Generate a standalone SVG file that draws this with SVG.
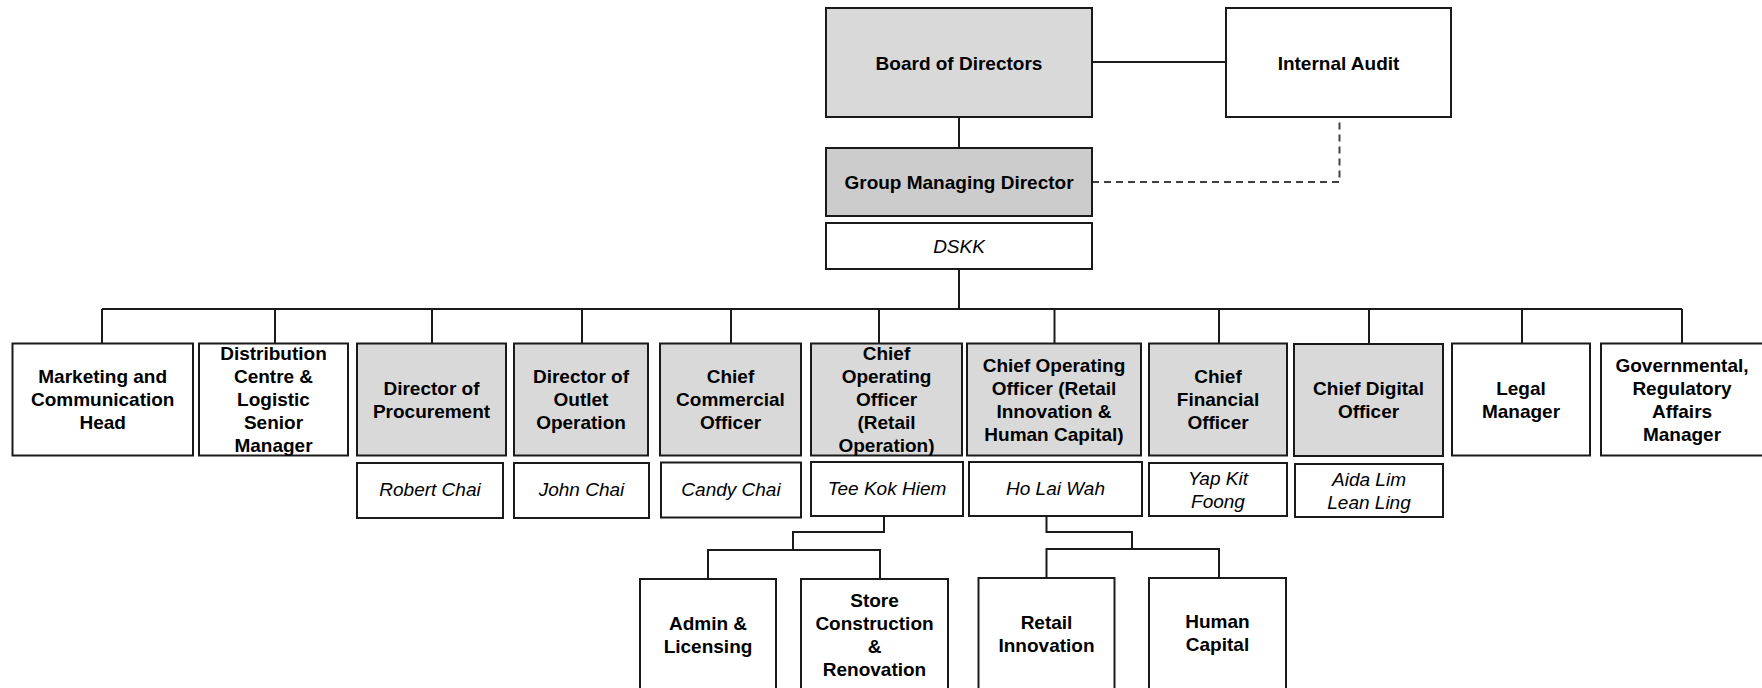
<svg xmlns="http://www.w3.org/2000/svg" width="1762" height="688" viewBox="0 0 1762 688">
<style>
.b{fill:#ffffff;stroke:#1a1a1a;stroke-width:2}
.g{fill:#d9d9d9;stroke:#1a1a1a;stroke-width:2}
.gd{fill:#cccccc;stroke:#1a1a1a;stroke-width:2}
.t{font-family:"Liberation Sans",Arial,sans-serif;font-size:19px;font-weight:bold;fill:#000;text-anchor:middle}
.n{font-family:"Liberation Sans",Arial,sans-serif;font-size:19px;font-style:italic;fill:#000;text-anchor:middle}
.c{fill:none;stroke:#1a1a1a;stroke-width:2}
.d{fill:none;stroke:#404040;stroke-width:2;stroke-dasharray:7 5}
</style>
<rect width="1762" height="688" fill="#ffffff"/>
<g id="connectors">
<line class="c" x1="1092" y1="62" x2="1226" y2="62"/>
<line class="c" x1="959" y1="117" x2="959" y2="148"/>
<path class="d" d="M1092 182 H1339.5 V117"/>
<line class="c" x1="959" y1="269" x2="959" y2="309"/>
<line class="c" x1="102" y1="309" x2="1682" y2="309"/>
<line class="c" x1="102" y1="309" x2="102" y2="343.5"/>
<line class="c" x1="275" y1="309" x2="275" y2="343.5"/>
<line class="c" x1="432" y1="309" x2="432" y2="343.5"/>
<line class="c" x1="582" y1="309" x2="582" y2="343.5"/>
<line class="c" x1="731" y1="309" x2="731" y2="343.5"/>
<line class="c" x1="879" y1="309" x2="879" y2="343.5"/>
<line class="c" x1="1054.5" y1="309" x2="1054.5" y2="343.5"/>
<line class="c" x1="1219" y1="309" x2="1219" y2="343.5"/>
<line class="c" x1="1369" y1="309" x2="1369" y2="344"/>
<line class="c" x1="1522" y1="309" x2="1522" y2="343.5"/>
<line class="c" x1="1682" y1="309" x2="1682" y2="343.5"/>
<path class="c" d="M884 516 V532 H793 V550"/>
<path class="c" d="M708 579 V550 H880 V579"/>
<path class="c" d="M1046.5 516 V532 H1132 V549"/>
<path class="c" d="M1046.5 578 V549 H1219 V578"/>
</g>
<g id="board"><rect class="g" x="826" y="8" width="266" height="109"/><text class="t" x="959" y="70">Board of Directors</text></g>
<g id="internal-audit"><rect class="b" x="1226" y="8" width="225" height="109"/><text class="t" x="1338.5" y="70">Internal Audit</text></g>
<g id="gmd"><rect class="gd" x="826" y="148" width="266" height="68"/><text class="t" x="959" y="189">Group Managing Director</text></g>
<g id="dskk"><rect class="b" x="826" y="223" width="266" height="46"/><text class="n" x="959" y="253">DSKK</text></g>

<g id="marketing"><rect class="b" x="12.5" y="343.5" width="180.5" height="112"/><text class="t"><tspan x="102.7" y="383">Marketing and</tspan><tspan x="102.7" y="406">Communication</tspan><tspan x="102.7" y="429">Head</tspan></text></g>
<g id="distribution"><rect class="b" x="199" y="343.5" width="149" height="112"/><text class="t"><tspan x="273.5" y="360">Distribution</tspan><tspan x="273.5" y="383">Centre &amp;</tspan><tspan x="273.5" y="406">Logistic</tspan><tspan x="273.5" y="429">Senior</tspan><tspan x="273.5" y="452">Manager</tspan></text></g>
<g id="procurement"><rect class="g" x="357" y="343.5" width="149" height="112"/><text class="t"><tspan x="431.5" y="395">Director of</tspan><tspan x="431.5" y="418">Procurement</tspan></text></g>
<g id="outlet"><rect class="g" x="514" y="343.5" width="134" height="112"/><text class="t"><tspan x="581" y="383">Director of</tspan><tspan x="581" y="406">Outlet</tspan><tspan x="581" y="429">Operation</tspan></text></g>
<g id="cco"><rect class="g" x="660" y="343.5" width="141" height="112"/><text class="t"><tspan x="730.5" y="383">Chief</tspan><tspan x="730.5" y="406">Commercial</tspan><tspan x="730.5" y="429">Officer</tspan></text></g>
<g id="coo-ro"><rect class="g" x="811" y="343.5" width="151" height="112"/><text class="t"><tspan x="886.5" y="360">Chief</tspan><tspan x="886.5" y="383">Operating</tspan><tspan x="886.5" y="406">Officer</tspan><tspan x="886.5" y="429">(Retail</tspan><tspan x="886.5" y="452">Operation)</tspan></text></g>
<g id="coo-rihc"><rect class="g" x="967" y="343.5" width="174" height="112"/><text class="t"><tspan x="1054" y="372">Chief Operating</tspan><tspan x="1054" y="395">Officer (Retail</tspan><tspan x="1054" y="418">Innovation &amp;</tspan><tspan x="1054" y="441">Human Capital)</tspan></text></g>
<g id="cfo"><rect class="g" x="1149" y="343.5" width="138" height="112"/><text class="t"><tspan x="1218" y="383">Chief</tspan><tspan x="1218" y="406">Financial</tspan><tspan x="1218" y="429">Officer</tspan></text></g>
<g id="cdo"><rect class="g" x="1294" y="344" width="149" height="112"/><text class="t"><tspan x="1368.5" y="395">Chief Digital</tspan><tspan x="1368.5" y="418">Officer</tspan></text></g>
<g id="legal"><rect class="b" x="1452" y="343.5" width="138" height="112"/><text class="t"><tspan x="1521" y="395">Legal</tspan><tspan x="1521" y="418">Manager</tspan></text></g>
<g id="gov"><rect class="b" x="1601" y="343.5" width="164" height="112"/><text class="t"><tspan x="1682" y="372">Governmental,</tspan><tspan x="1682" y="395">Regulatory</tspan><tspan x="1682" y="418">Affairs</tspan><tspan x="1682" y="441">Manager</tspan></text></g>

<g id="name-robert"><rect class="b" x="357" y="463" width="146" height="55"/><text class="n" x="430" y="496">Robert Chai</text></g>
<g id="name-john"><rect class="b" x="514" y="463" width="135" height="55"/><text class="n" x="581.5" y="496">John Chai</text></g>
<g id="name-candy"><rect class="b" x="661" y="462.5" width="140" height="55"/><text class="n" x="731" y="496">Candy Chai</text></g>
<g id="name-tee"><rect class="b" x="811" y="462" width="152" height="54"/><text class="n" x="887" y="495">Tee Kok Hiem</text></g>
<g id="name-ho"><rect class="b" x="969" y="462" width="173" height="54"/><text class="n" x="1055.5" y="495">Ho Lai Wah</text></g>
<g id="name-yap"><rect class="b" x="1149" y="463" width="138" height="53"/><text class="n"><tspan x="1218" y="485">Yap Kit</tspan><tspan x="1218" y="508">Foong</tspan></text></g>
<g id="name-aida"><rect class="b" x="1295" y="464" width="148" height="53"/><text class="n"><tspan x="1369" y="486">Aida Lim</tspan><tspan x="1369" y="509">Lean Ling</tspan></text></g>

<g id="admin"><rect class="b" x="640" y="579" width="136" height="121"/><text class="t"><tspan x="708" y="630">Admin &amp;</tspan><tspan x="708" y="653">Licensing</tspan></text></g>
<g id="store"><rect class="b" x="801" y="579" width="147" height="121"/><text class="t"><tspan x="874.5" y="607">Store</tspan><tspan x="874.5" y="630">Construction</tspan><tspan x="874.5" y="653">&amp;</tspan><tspan x="874.5" y="676">Renovation</tspan></text></g>
<g id="retail-innovation"><rect class="b" x="978.5" y="578" width="136" height="122"/><text class="t"><tspan x="1046.5" y="629">Retail</tspan><tspan x="1046.5" y="652">Innovation</tspan></text></g>
<g id="human-capital"><rect class="b" x="1149" y="578" width="137" height="122"/><text class="t"><tspan x="1217.5" y="628">Human</tspan><tspan x="1217.5" y="651">Capital</tspan></text></g>
</svg>
